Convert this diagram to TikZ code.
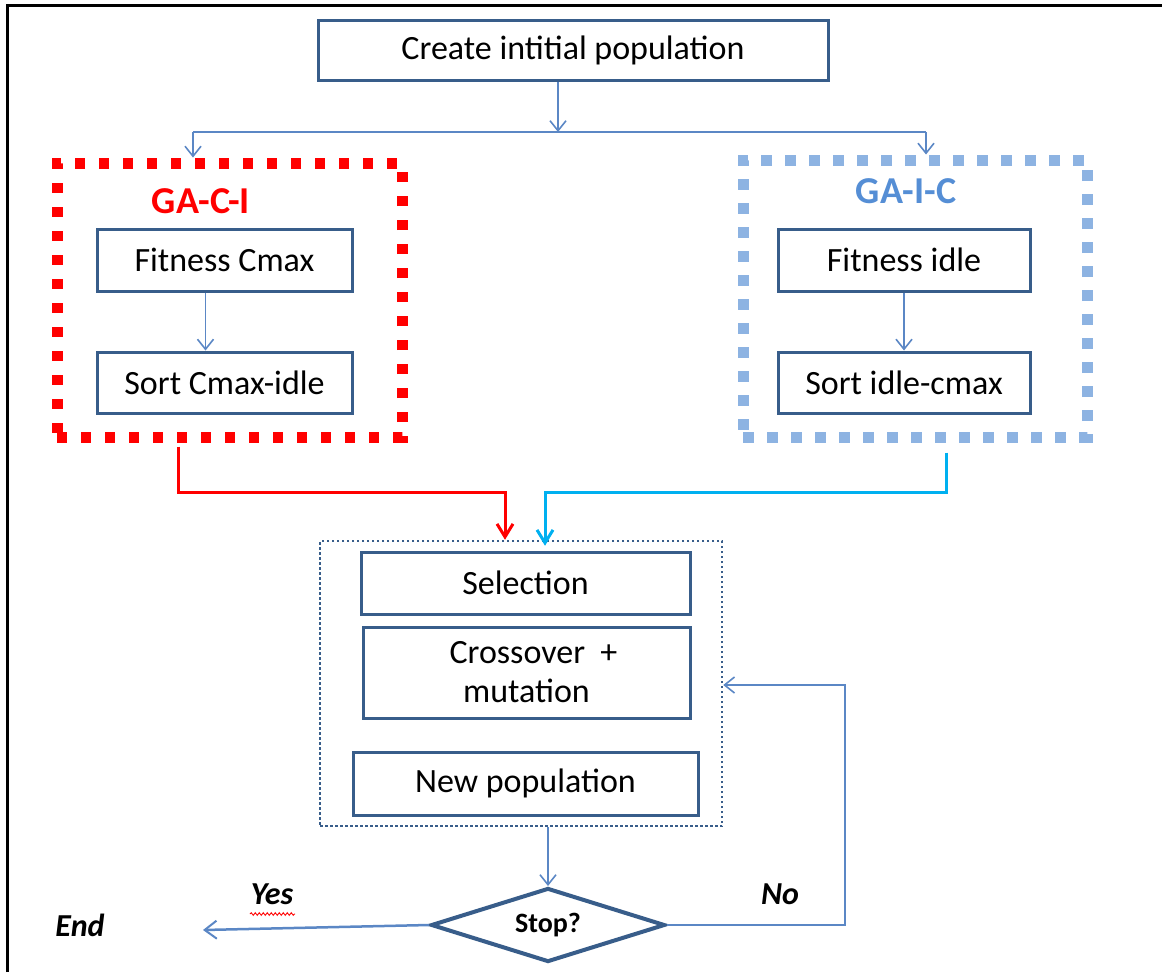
\documentclass[tikz,border=0pt]{standalone}
\usepackage{fontspec}
\setmainfont{Carlito}
\usetikzlibrary{arrows.meta,shapes.geometric,decorations.pathmorphing}
\definecolor{navy}{HTML}{385D8A}
\definecolor{arrblue}{HTML}{5B87C5}
\definecolor{lightfr}{HTML}{8DB3E2}
\definecolor{gaic}{HTML}{558ED5}
\definecolor{cyanline}{HTML}{00B0F0}
\definecolor{redfr}{HTML}{FF0000}
\tikzset{
  stepbox/.style={draw=navy, line width=3pt, fill=white, inner sep=0pt,
    font=\fontsize{34}{39}\selectfont, text=black, align=center},
  thinarrow/.style={draw=arrblue, line width=1.6pt, -{Straight Barb[length=10pt,width=16pt,line width=1.6pt]}},
  thinline/.style={draw=arrblue, line width=1.6pt},
  redframe/.style={draw=redfr, line width=11pt, dash pattern=on 10pt off 14pt, inner sep=0pt},
  blueframe/.style={draw=lightfr, line width=11pt, dash pattern=on 11pt off 13pt, inner sep=0pt},
  dotframe/.style={draw=navy, line width=2.5pt, dash pattern=on 2.5pt off 2.5pt, inner sep=0pt},
  label/.style={font=\fontsize{32}{38}\selectfont\bfseries\itshape, text=black}
}
\begin{document}
\begin{tikzpicture}[x=1pt,y=-1pt]
\useasboundingbox (0,0) rectangle (1162,972);
% outer frame (top and left edges)
\draw[black, line width=3pt] (7,972) -- (7,5) -- (1162,5);

% top box
\node[stepbox, minimum width=510pt, minimum height=60pt] (create) at (573,50) {Create intitial population};

% group frames
\node[redframe, minimum width=345pt, minimum height=274pt] (gaci) at (229.5,300) {};
\node[blueframe, minimum width=344pt, minimum height=277pt] (gaicf) at (915,298.5) {};
\node[font=\fontsize{38}{42}\selectfont\bfseries, text=redfr] (gacilab) at (201,201) {GA-C-I};
\node[font=\fontsize{38}{42}\selectfont\bfseries, text=gaic] (gaiclab) at (906,191) {GA-I-C};

% inner boxes
\node[stepbox, minimum width=255pt, minimum height=62pt] (fc) at (224.5,260) {Fitness Cmax};
\node[stepbox, minimum width=255pt, minimum height=61pt] (sc) at (224.5,382.5) {Sort Cmax-idle};
\node[stepbox, minimum width=252pt, minimum height=62pt] (fi) at (904,260) {Fitness idle};
\node[stepbox, minimum width=252pt, minimum height=61pt] (si) at (904,382.5) {Sort idle-cmax};

% main loop frame
\node[dotframe, minimum width=402pt, minimum height=285pt] (mainfr) at (521,683.5) {};
\node[stepbox, minimum width=329pt, minimum height=62pt] (sel) at (525.5,583) {Selection};
\node[stepbox, minimum width=327pt, minimum height=91pt] (cross) at (526.5,672.5) {\hspace*{14pt}Crossover\ \ +\\mutation};
\node[stepbox, minimum width=345pt, minimum height=63pt] (newp) at (525.5,783.5) {New population};

% decision
\node[draw=navy, line width=4pt, fill=white, shape=diamond, aspect=3.16, inner sep=0pt,
  minimum width=234pt, minimum height=74pt, font=\fontsize{28}{32}\selectfont\bfseries] (stop) at (548,925) {Stop?};

% labels
\node[label] (endlab) at (80,925) {End};
\node[label] (yeslab) at (272,894) {Yes};
\node[label] (nolab) at (780,894) {No};
\draw[red, line width=0.9pt, decorate, decoration={snake, segment length=4pt, amplitude=1.3pt}] (250,914) -- (295,914);

% coordinates
\coordinate (split) at (558,132);
\coordinate (jl) at (193,132);
\coordinate (jr) at (926,132);
\coordinate (rj) at (505,492);
\coordinate (bj) at (545,492);
\coordinate (fb) at (845,685);
\coordinate (endtip) at (203,930);

% connectors
\draw[thinarrow] (create.south -| split) -- (split);
\draw[thinline] (jl) -- (jr);
\draw[thinarrow] (jl) -- (jl |- gaci.north);
\draw[thinarrow] (jr) -- (jr |- gaicf.north);
\draw[thinarrow] ([xshift=-19pt]fc.south) -- ([xshift=-19pt]sc.north);
\draw[thinarrow] (fi.south) -- (si.north);

\draw[redfr, line width=3pt, -{Straight Barb[length=13pt,width=16pt,line width=3pt]}]
  ([xshift=-51.5pt,yshift=-4pt]gaci.south) |- (rj) -- (rj |- mainfr.north);
\draw[cyanline, line width=3pt, -{Straight Barb[length=13pt,width=16pt,line width=3pt]}]
  ([xshift=31pt,yshift=-10pt]gaicf.south) |- (bj) -- ([yshift=-6pt]bj |- mainfr.north);

\draw[thinarrow] (stop.north |- mainfr.south) -- (stop.north);
\draw[thinarrow] (stop.east) -| (fb) -- (fb -| mainfr.east);
\draw[draw=arrblue, line width=2.5pt, -{Straight Barb[length=12pt,width=18pt,line width=2pt]}] (stop.west) -- (endtip);
\end{tikzpicture}
\end{document}
